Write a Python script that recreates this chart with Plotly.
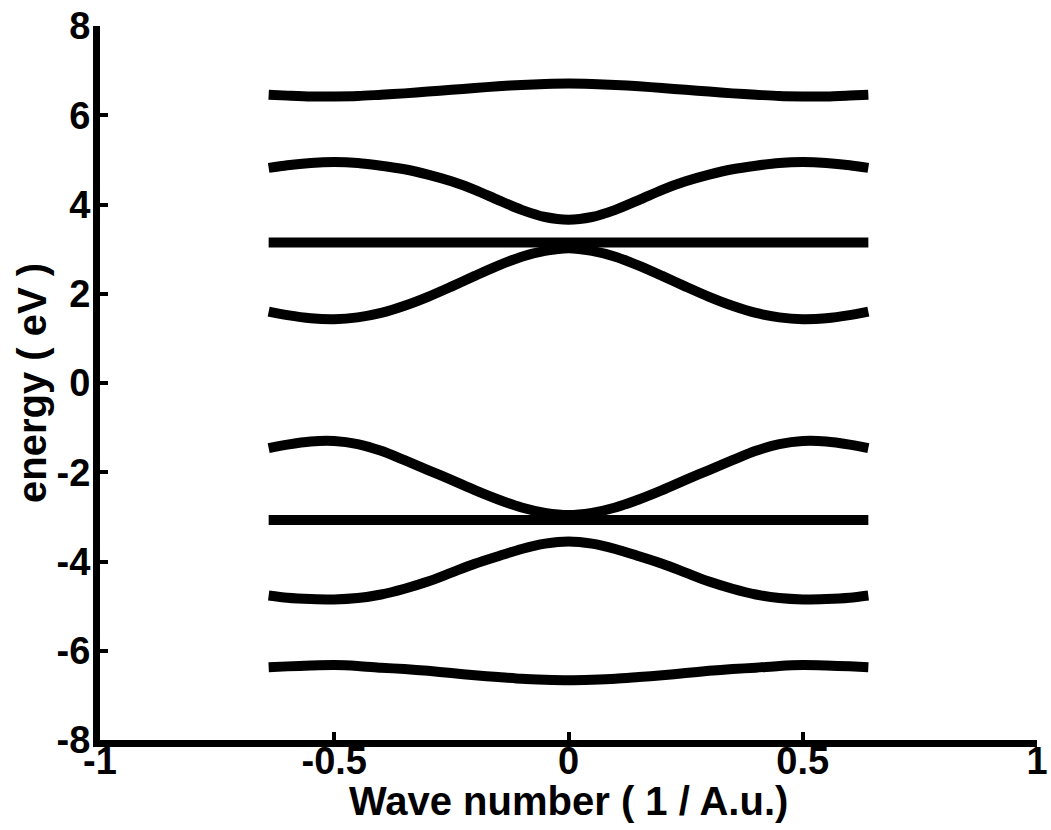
import plotly.graph_objects as go

# wave number samples (1 / A.u.)
k = [-0.64, -0.6, -0.55, -0.5, -0.45, -0.4, -0.35, -0.3, -0.25, -0.2, -0.15, -0.1, -0.05,
     0.0, 0.05, 0.1, 0.15, 0.2, 0.25, 0.3, 0.35, 0.4, 0.45, 0.5, 0.55, 0.6, 0.64]

# band energies (eV), from top to bottom
band_top = [6.46, 6.44, 6.42, 6.42, 6.43, 6.46, 6.49, 6.53, 6.57, 6.61, 6.65, 6.68, 6.70,
            6.71, 6.70, 6.68, 6.65, 6.61, 6.57, 6.53, 6.49, 6.46, 6.43, 6.42, 6.42, 6.44, 6.46]
band_upper_b = [4.82, 4.88, 4.93, 4.95, 4.93, 4.87, 4.79, 4.67, 4.52, 4.33, 4.10, 3.88, 3.72,
                3.66, 3.72, 3.88, 4.10, 4.33, 4.52, 4.67, 4.79, 4.87, 4.93, 4.95, 4.93, 4.88, 4.82]
band_upper_flat = [3.15] * 27
band_upper_c = [1.60, 1.52, 1.45, 1.43, 1.47, 1.57, 1.73, 1.93, 2.16, 2.40, 2.63, 2.83, 2.96,
                3.02, 2.96, 2.83, 2.63, 2.40, 2.16, 1.93, 1.73, 1.57, 1.47, 1.43, 1.45, 1.52, 1.60]
band_lower_c = [-1.46, -1.38, -1.31, -1.30, -1.37, -1.52, -1.73, -1.95, -2.17, -2.40, -2.61, -2.79, -2.91,
                -2.96, -2.91, -2.79, -2.61, -2.40, -2.17, -1.95, -1.73, -1.52, -1.37, -1.30, -1.31, -1.38, -1.46]
band_lower_flat = [-3.07] * 27
band_lower_b = [-4.76, -4.81, -4.84, -4.85, -4.82, -4.74, -4.61, -4.45, -4.25, -4.05, -3.88, -3.72, -3.60,
                -3.55, -3.60, -3.72, -3.88, -4.05, -4.25, -4.45, -4.61, -4.74, -4.82, -4.85, -4.84, -4.81, -4.76]
band_bottom = [-6.37, -6.35, -6.33, -6.32, -6.34, -6.38, -6.41, -6.45, -6.50, -6.55, -6.59, -6.63, -6.65,
               -6.66, -6.65, -6.63, -6.59, -6.55, -6.50, -6.45, -6.41, -6.38, -6.34, -6.32, -6.33, -6.35, -6.37]

bands = [band_top, band_upper_b, band_upper_flat, band_upper_c,
         band_lower_c, band_lower_flat, band_lower_b, band_bottom]

x_ticks = [-1, -0.5, 0, 0.5, 1]
x_tick_text = ["-1", "-0.5", "0", "0.5", "1"]
y_ticks = [-8, -6, -4, -2, 0, 2, 4, 6, 8]
y_tick_text = ["-8", "-6", "-4", "-2", "0", "2", "4", "6", "8"]

x_title = "Wave number ( 1 / A.u.)"
y_title = "energy ( eV )"

fig = go.Figure()
for band in bands:
    fig.add_trace(go.Scatter(
        x=k, y=band, mode="lines",
        line=dict(color="black", width=10, shape="spline", smoothing=0.8),
        showlegend=False, hoverinfo="skip",
    ))

tick_font = dict(family="Liberation Sans, Arial, sans-serif", size=38,
                 color="black", weight="bold")
title_font = dict(family="Liberation Sans, Arial, sans-serif", size=40,
                  color="black", weight="bold")

# x-axis title sits snugly under the tick labels
fig.add_annotation(
    text=x_title, font=title_font, showarrow=False,
    xref="paper", yref="paper", x=0.5, y=-0.086,
    xanchor="center", yanchor="middle",
)

fig.update_layout(
    width=1051, height=830,
    paper_bgcolor="white", plot_bgcolor="white",
    margin=dict(l=100, r=14, t=26, b=90),
    font=tick_font,
    xaxis=dict(
        range=[-1, 1], tickvals=x_ticks, ticktext=x_tick_text,
        showgrid=False, zeroline=False, automargin=False,
        showline=True, linecolor="black", linewidth=7,
        ticks="inside", ticklen=8, tickwidth=4, tickcolor="black",
        tickfont=tick_font, ticklabelstandoff=-19,
    ),
    yaxis=dict(
        range=[-8, 8], tickvals=y_ticks, ticktext=y_tick_text,
        showgrid=False, zeroline=False, automargin=False,
        showline=True, linecolor="black", linewidth=7,
        ticks="inside", ticklen=8, tickwidth=4, tickcolor="black",
        tickfont=tick_font, ticklabelstandoff=-5,
        title=dict(text=y_title, font=title_font, standoff=0),
    ),
)

fig.write_html("out.html")
